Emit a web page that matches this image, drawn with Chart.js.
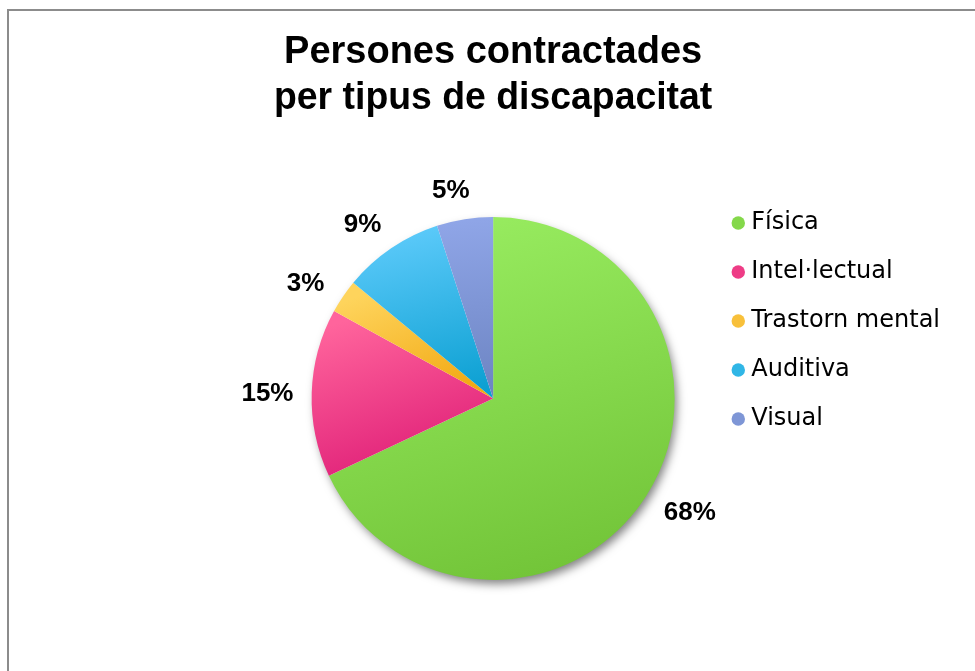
<!DOCTYPE html>
<html>
<head>
<meta charset="utf-8">
<title>Persones contractades per tipus de discapacitat</title>
<script src="https://cdn.jsdelivr.net/npm/chart.js@4/dist/chart.umd.min.js"></script>
<style>
html, body { margin: 0; padding: 0; background: #fff; }
</style>
</head>
<body>
<canvas id="pieChart" width="975" height="671"></canvas>
<script>
// =====================================
// DATA
// =====================================

const categories = [
    "Física",
    "Intel·lectual",
    "Trastorn mental",
    "Auditiva",
    "Visual"
];

const percentages = [68, 15, 3, 9, 5];

const titleLines = [
    "Persones contractades",
    "per tipus de discapacitat"
];


// =====================================
// COLOURS (top / bottom of each slice)
// =====================================

const lightColors = ["#98ec60", "#ff649c", "#fed45c", "#5ecbfb", "#90a6e8"];
const darkColors  = ["#72c438", "#de1c76", "#f2aa16", "#0ca0d2", "#6c84c2"];
const legendColors = ["#84d84a", "#ee3c86", "#f8c03a", "#30b6e6", "#7e96d6"];


// =====================================
// HELPERS
// =====================================

function arcBox(arc){

    const p = arc.getProps(["x", "y", "startAngle", "endAngle", "outerRadius"]);
    const xs = [p.x];
    const ys = [p.y];
    const add = (a) => {
        xs.push(p.x + p.outerRadius * Math.cos(a));
        ys.push(p.y + p.outerRadius * Math.sin(a));
    };

    add(p.startAngle);
    add(p.endAngle);

    const q = Math.PI / 2;
    for(let k = Math.ceil(p.startAngle / q); k * q < p.endAngle; k++){
        add(k * q);
    }

    return {
        minX: Math.min(...xs), maxX: Math.max(...xs),
        minY: Math.min(...ys), maxY: Math.max(...ys)
    };
}

// labels lean a little towards the horizontal axis, like Excel does
function labelAngle(mid){
    const fromHoriz = Math.asin(Math.abs(Math.sin(mid)));
    const amount = 2.5 * Math.PI / 180 * Math.min(1, fromHoriz / (15 * Math.PI / 180));
    return mid - Math.sign(Math.sin(2 * mid)) * amount;
}


// =====================================
// PLUGINS
// =====================================

const framePlugin = {
    id: "frame",
    beforeDraw(chart){
        const ctx = chart.ctx;
        ctx.save();
        ctx.fillStyle = "#8c8c8c";
        ctx.fillRect(7, 9, chart.width, 2);
        ctx.fillRect(7, 9, 2, chart.height);
        ctx.restore();
    }
};

const slicePlugin = {
    id: "sliceStyle",
    beforeDatasetsDraw(chart){

        const ctx = chart.ctx;
        const arcs = chart.getDatasetMeta(0).data;
        if(!arcs.length) return;

        // soft shadow under the whole pie
        const c = arcs[0];
        ctx.save();
        ctx.shadowColor = "rgba(0,0,0,0.5)";
        ctx.shadowBlur = 10;
        ctx.shadowOffsetX = 3;
        ctx.shadowOffsetY = 5;
        ctx.fillStyle = "#fff";
        ctx.beginPath();
        ctx.arc(c.x, c.y, c.outerRadius - 1, 0, Math.PI * 2);
        ctx.fill();
        ctx.restore();

        // gradient fill per slice
        arcs.forEach((arc, i) => {
            const b = arcBox(arc);
            const w = b.maxX - b.minX;
            const g = ctx.createLinearGradient(
                b.minX + w * 0.35, b.minY,
                b.maxX - w * 0.35, b.maxY
            );
            g.addColorStop(0, lightColors[i]);
            g.addColorStop(1, darkColors[i]);
            arc.options.backgroundColor = g;
        });
    }
};

const labelPlugin = {
    id: "outsideLabels",
    afterDatasetsDraw(chart){

        const ctx = chart.ctx;
        const arcs = chart.getDatasetMeta(0).data;
        const total = percentages.reduce((a, b) => a + b, 0);

        ctx.save();
        ctx.font = "bold 26px 'Liberation Sans', Arial, sans-serif";
        ctx.fillStyle = "#000";
        ctx.textAlign = "center";
        ctx.textBaseline = "middle";

        arcs.forEach((arc, i) => {
            const mid = labelAngle((arc.startAngle + arc.endAngle) / 2);
            const text = Math.round(percentages[i] / total * 100) + "%";
            const hw = ctx.measureText(text).width / 2;
            const hh = 9.5;
            const d = arc.outerRadius + 18
                + Math.abs(Math.cos(mid)) * hw
                + Math.abs(Math.sin(mid)) * hh;
            ctx.fillText(text, arc.x + Math.cos(mid) * d, arc.y + Math.sin(mid) * d + 1);
        });

        ctx.restore();
    }
};


// =====================================
// PIE CHART
// =====================================

const pieChart =
new Chart(

    document.getElementById("pieChart"),

    {
        type: "pie",

        data: {
            labels: categories,
            datasets: [{
                data: percentages,
                backgroundColor: legendColors,
                borderWidth: 0,
                radius: 181.5
            }]
        },

        options: {
            responsive: false,
            devicePixelRatio: 1,
            animation: false,

            layout: {
                padding: { left: 274, right: 25, top: 0, bottom: 60 }
            },

            plugins: {
                title: {
                    display: true,
                    text: titleLines,
                    fullSize: false,
                    color: "#000",
                    font: {
                        family: "'Liberation Sans', Arial, sans-serif",
                        size: 38,
                        weight: "bold",
                        lineHeight: 1.21
                    },
                    padding: { top: 30, bottom: 64 }
                },

                legend: {
                    position: "right",
                    align: "start",
                    fullSize: false,
                    labels: {
                        usePointStyle: true,
                        pointStyle: "circle",
                        boxWidth: 2,
                        boxHeight: 9.5,
                        padding: 25,
                        color: "#000",
                        font: {
                            family: "'DejaVu Sans', Verdana, sans-serif",
                            size: 24
                        }
                    }
                },

                tooltip: { enabled: false }
            }
        },

        plugins: [framePlugin, slicePlugin, labelPlugin]
    }
);
</script>
</body>
</html>
